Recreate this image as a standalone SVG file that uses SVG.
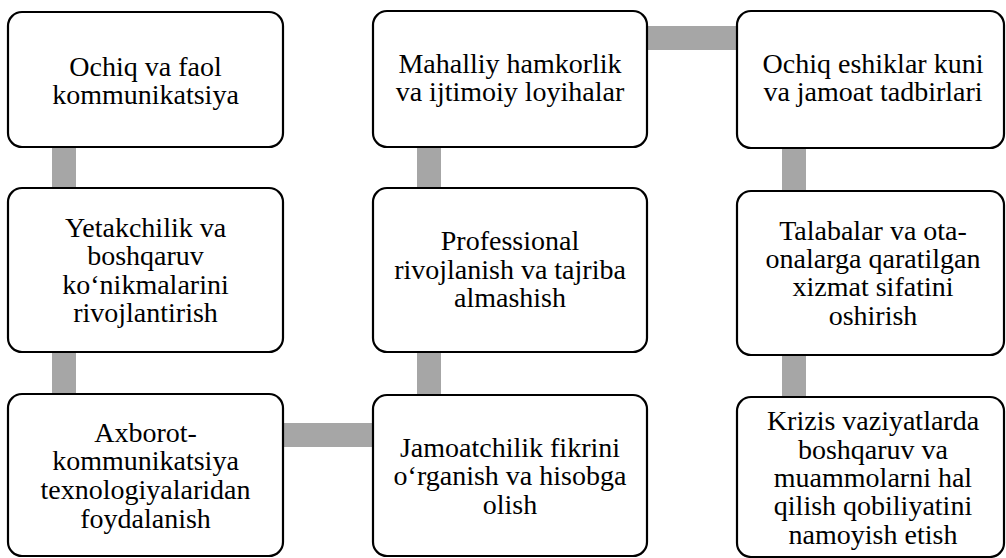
<svg xmlns="http://www.w3.org/2000/svg" width="1006" height="558" viewBox="0 0 1006 558">
<style>
.box{fill:#fff;stroke:#000;stroke-width:2.2}
.bar{fill:#a6a6a6}
.t{font-family:'Liberation Serif','Times New Roman',serif;font-size:28px;fill:#000;text-anchor:middle}
</style>
<rect width="1006" height="558" fill="#fff"/>
<g id="connectors">
<rect class="bar" x="52" y="146" width="24" height="43"/>
<rect class="bar" x="52" y="351" width="24" height="44"/>
<rect class="bar" x="417" y="146" width="24" height="43"/>
<rect class="bar" x="417" y="351" width="24" height="45"/>
<rect class="bar" x="782" y="147" width="24" height="45"/>
<rect class="bar" x="782" y="354" width="24" height="44"/>
<rect class="bar" x="282" y="423" width="92" height="24"/>
<rect class="bar" x="646" y="26" width="92" height="24"/>
</g>
<g id="n1"><rect class="box" x="8" y="12" width="275" height="135" rx="14"/>
<text class="t" x="145.5" y="75.5">Ochiq va faol</text><text class="t" x="145.5" y="103.5">kommunikatsiya</text></g>
<g id="n2"><rect class="box" x="8" y="188" width="275" height="164" rx="14"/>
<text class="t" x="145.5" y="237">Yetakchilik va</text><text class="t" x="145.5" y="265">boshqaruv</text><text class="t" x="145.5" y="293.5">ko‘nikmalarini</text><text class="t" x="145.5" y="322">rivojlantirish</text></g>
<g id="n3"><rect class="box" x="8" y="394" width="275" height="162" rx="14"/>
<text class="t" x="145.5" y="442">Axborot-</text><text class="t" x="145.5" y="470">kommunikatsiya</text><text class="t" x="145.5" y="499">texnologiyalaridan</text><text class="t" x="145.5" y="528">foydalanish</text></g>
<g id="n4"><rect class="box" x="373" y="11" width="274" height="136" rx="14"/>
<text class="t" x="510" y="72.5">Mahalliy hamkorlik</text><text class="t" x="510" y="100.5">va ijtimoiy loyihalar</text></g>
<g id="n5"><rect class="box" x="373" y="188" width="274" height="164" rx="14"/>
<text class="t" x="510" y="250">Professional</text><text class="t" x="510" y="278.5">rivojlanish va tajriba</text><text class="t" x="510" y="307">almashish</text></g>
<g id="n6"><rect class="box" x="373" y="395" width="274" height="161" rx="14"/>
<text class="t" x="510" y="457">Jamoatchilik fikrini</text><text class="t" x="510" y="485">o‘rganish va hisobga</text><text class="t" x="510" y="513.5">olish</text></g>
<g id="n7"><rect class="box" x="737" y="11" width="267" height="137" rx="14"/>
<text class="t" x="873" y="72.5">Ochiq eshiklar kuni</text><text class="t" x="873" y="100.5">va jamoat tadbirlari</text></g>
<g id="n8"><rect class="box" x="737" y="191" width="267" height="164" rx="14"/>
<text class="t" x="873" y="239.5">Talabalar va ota-</text><text class="t" x="873" y="268">onalarga qaratilgan</text><text class="t" x="873" y="296">xizmat sifatini</text><text class="t" x="873" y="324.5">oshirish</text></g>
<g id="n9"><rect class="box" x="737" y="397" width="267" height="160" rx="14"/>
<text class="t" x="873" y="430">Krizis vaziyatlarda</text><text class="t" x="873" y="458.5">boshqaruv va</text><text class="t" x="873" y="487">muammolarni hal</text><text class="t" x="873" y="515">qilish qobiliyatini</text><text class="t" x="873" y="543.5">namoyish etish</text></g>
</svg>
